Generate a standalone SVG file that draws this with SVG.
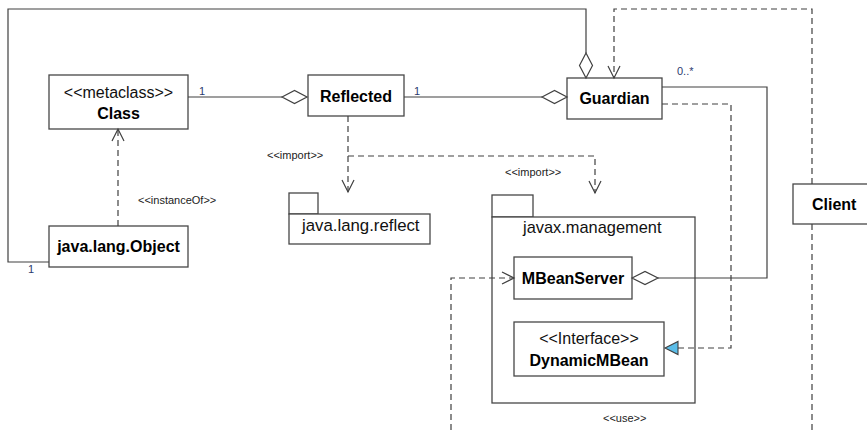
<svg xmlns="http://www.w3.org/2000/svg" width="867" height="430" viewBox="0 0 867 430">
<style>
.box{fill:#fff;stroke:#474747;stroke-width:1.3}
.ln{fill:none;stroke:#404040;stroke-width:1.2}
.dash{fill:none;stroke:#404040;stroke-width:1.2;stroke-dasharray:6,4}
.dia{fill:#fff;stroke:#404040;stroke-width:1.2}
.b{font-family:"Liberation Sans",Arial,sans-serif;font-weight:bold;font-size:16px;fill:#000}
.r{font-family:"Liberation Sans",Arial,sans-serif;font-size:16px;fill:#111}
.s{font-family:"Liberation Sans",Arial,sans-serif;font-size:11px;fill:#222}
.m{font-family:"Liberation Sans",Arial,sans-serif;font-size:11px;fill:#2b3a6e}
</style>
<defs>
<marker id="open" markerUnits="userSpaceOnUse" markerWidth="16" markerHeight="16" viewBox="-14 -8 16 16" refX="0" refY="0" orient="auto">
<path d="M-12,-6 L0,0 L-12,6" fill="none" stroke="#404040" stroke-width="1.2"/>
</marker>
</defs>
<rect width="867" height="430" fill="#fff"/>

<g id="class">
<rect class="box" x="49" y="75" width="139" height="54"/>
<text class="r" x="118.5" y="98" text-anchor="middle">&lt;&lt;metaclass&gt;&gt;</text>
<text class="b" x="118.5" y="119" text-anchor="middle">Class</text>
</g>
<g id="reflected">
<rect class="box" x="308" y="75" width="96" height="41"/>
<text class="b" x="356" y="102" text-anchor="middle">Reflected</text>
</g>
<g id="guardian">
<rect class="box" x="567" y="78" width="95" height="41"/>
<text class="b" x="614.5" y="104" text-anchor="middle">Guardian</text>
</g>
<g id="object">
<rect class="box" x="49" y="226" width="139" height="41"/>
<text class="b" x="118.5" y="252" text-anchor="middle">java.lang.Object</text>
</g>
<g id="reflect-pkg">
<rect class="box" x="289" y="193" width="29" height="21"/>
<rect class="box" x="289" y="214" width="141" height="30"/>
<text class="r" x="302" y="231" style="font-size:16.8px">java.lang.reflect</text>
</g>
<g id="management-pkg">
<rect class="box" x="492" y="195" width="41" height="22"/>
<rect class="box" x="492" y="217" width="203" height="186"/>
<text class="r" x="523" y="233" style="font-size:16.4px">javax.management</text>
</g>
<g id="mbeanserver">
<rect class="box" x="514" y="257" width="118" height="42"/>
<text class="b" x="573" y="284" text-anchor="middle">MBeanServer</text>
</g>
<g id="dynamicmbean">
<rect class="box" x="514" y="322" width="150" height="54"/>
<text class="r" x="589" y="344" text-anchor="middle">&lt;&lt;Interface&gt;&gt;</text>
<text class="b" x="589" y="366" text-anchor="middle">DynamicMBean</text>
</g>
<g id="client">
<rect class="box" x="793" y="184" width="80" height="40"/>
<text class="b" x="812" y="210">Client</text>
</g>

<g id="connectors">
<!-- Object to Guardian aggregation -->
<polyline class="ln" points="49,262 8,262 8,9 586,9 586,53"/>
<polygon class="dia" points="586,53 592.5,65.5 586,78 579.5,65.5"/>
<text class="m" x="28" y="273">1</text>
<!-- Class - Reflected -->
<line class="ln" x1="188" y1="97" x2="282" y2="97"/>
<polygon class="dia" points="282,97 294.5,90.5 307,97 294.5,103.5"/>
<text class="m" x="199" y="95">1</text>
<!-- Reflected - Guardian -->
<line class="ln" x1="404" y1="97" x2="542" y2="97"/>
<polygon class="dia" points="542,97 554.5,90.5 567,97 554.5,103.5"/>
<text class="m" x="414" y="95">1</text>
<!-- Guardian - MBeanServer -->
<polyline class="ln" points="662,87 767,87 767,278 658,278"/>
<polygon class="dia" points="632,278 645,271.5 658,278 645,284.5"/>
<text class="m" x="677" y="75">0..*</text>
<!-- Guardian realizes DynamicMBean -->
<polyline class="dash" points="662,104 731,104 731,348 678,348"/>
<polygon points="665,348 678,341.5 678,354.5" fill="#5bbde8" stroke="#404040" stroke-width="1.1"/>
<!-- imports -->
<polyline class="dash" points="348,116 348,192" marker-end="url(#open)"/>
<polyline class="dash" points="348,156 595,156 595,193" marker-end="url(#open)"/>
<text class="s" x="267" y="159">&lt;&lt;import&gt;&gt;</text>
<text class="s" x="505" y="176">&lt;&lt;import&gt;&gt;</text>
<!-- Client dependency on Guardian -->
<polyline class="dash" points="812,184 812,9 614,9 614,78" marker-end="url(#open)"/>
<line class="dash" x1="812" y1="224" x2="812" y2="430"/>
<!-- use -->
<polyline class="dash" points="451,430 451,278 514,278" marker-end="url(#open)"/>
<text class="s" x="603" y="422">&lt;&lt;use&gt;&gt;</text>
<!-- instanceOf -->
<polyline class="dash" points="118,226 118,129" marker-end="url(#open)"/>
<text class="s" x="138" y="204">&lt;&lt;instanceOf&gt;&gt;</text>
</g>
</svg>
